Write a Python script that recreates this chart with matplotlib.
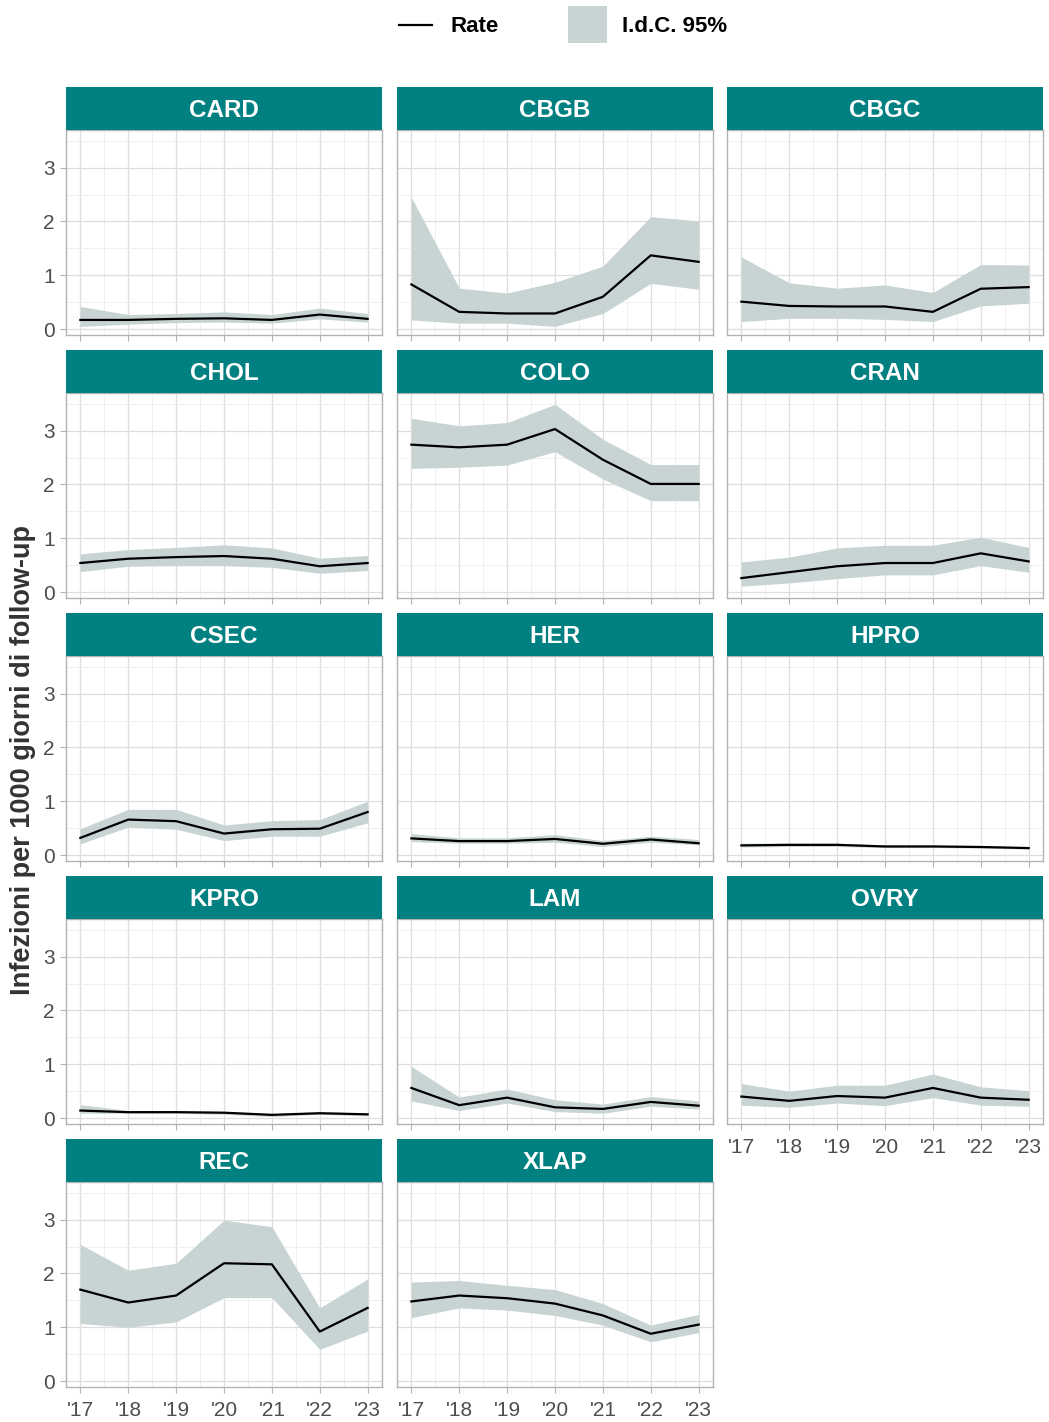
import numpy as np
import matplotlib
matplotlib.use("Agg")
from matplotlib import pyplot as plt
from matplotlib.lines import Line2D
from matplotlib.patches import Rectangle

# anni e pannelli
years = [17, 18, 19, 20, 21, 22, 23]
year_labels = ["'17", "'18", "'19", "'20", "'21", "'22", "'23"]
panels = ["CARD", "CBGB", "CBGC", "CHOL", "COLO", "CRAN", "CSEC",
          "HER", "HPRO", "KPRO", "LAM", "OVRY", "REC", "XLAP"]

# rate, limite inferiore, limite superiore
CARD_RATE = [0.17, 0.17, 0.19, 0.20, 0.17, 0.27, 0.19]
CARD_LO = [0.05, 0.09, 0.12, 0.13, 0.11, 0.19, 0.13]
CARD_HI = [0.42, 0.27, 0.29, 0.32, 0.27, 0.39, 0.29]

CBGB_RATE = [0.83, 0.32, 0.29, 0.29, 0.60, 1.37, 1.25]
CBGB_LO = [0.17, 0.11, 0.11, 0.05, 0.29, 0.85, 0.74]
CBGB_HI = [2.45, 0.76, 0.67, 0.87, 1.17, 2.09, 2.01]

CBGC_RATE = [0.51, 0.43, 0.42, 0.42, 0.32, 0.75, 0.78]
CBGC_LO = [0.14, 0.20, 0.20, 0.18, 0.14, 0.43, 0.48]
CBGC_HI = [1.34, 0.86, 0.76, 0.82, 0.68, 1.20, 1.19]

CHOL_RATE = [0.54, 0.62, 0.65, 0.67, 0.62, 0.48, 0.54]
CHOL_LO = [0.38, 0.48, 0.49, 0.49, 0.46, 0.35, 0.40]
CHOL_HI = [0.71, 0.79, 0.83, 0.88, 0.82, 0.63, 0.68]

COLO_RATE = [2.74, 2.69, 2.74, 3.03, 2.46, 2.01, 2.01]
COLO_LO = [2.30, 2.32, 2.36, 2.61, 2.10, 1.70, 1.70]
COLO_HI = [3.23, 3.09, 3.15, 3.49, 2.84, 2.37, 2.37]

CRAN_RATE = [0.26, 0.37, 0.48, 0.54, 0.54, 0.72, 0.57]
CRAN_LO = [0.11, 0.17, 0.25, 0.32, 0.32, 0.49, 0.37]
CRAN_HI = [0.56, 0.65, 0.82, 0.87, 0.87, 1.02, 0.83]

CSEC_RATE = [0.32, 0.66, 0.63, 0.40, 0.48, 0.49, 0.80]
CSEC_LO = [0.21, 0.52, 0.48, 0.27, 0.35, 0.35, 0.60]
CSEC_HI = [0.49, 0.85, 0.85, 0.56, 0.64, 0.66, 1.00]

HER_RATE = [0.31, 0.26, 0.26, 0.30, 0.21, 0.29, 0.22]
HER_LO = [0.25, 0.22, 0.22, 0.24, 0.16, 0.24, 0.19]
HER_HI = [0.40, 0.32, 0.32, 0.38, 0.27, 0.35, 0.29]

HPRO_RATE = [0.18, 0.19, 0.19, 0.16, 0.16, 0.15, 0.13]
HPRO_LO = [0.15, 0.16, 0.16, 0.14, 0.14, 0.13, 0.11]
HPRO_HI = [0.22, 0.22, 0.22, 0.19, 0.19, 0.18, 0.16]

KPRO_RATE = [0.14, 0.11, 0.11, 0.10, 0.06, 0.09, 0.07]
KPRO_LO = [0.09, 0.09, 0.09, 0.07, 0.03, 0.07, 0.04]
KPRO_HI = [0.25, 0.14, 0.14, 0.12, 0.08, 0.12, 0.09]

LAM_RATE = [0.56, 0.24, 0.38, 0.20, 0.17, 0.30, 0.23]
LAM_LO = [0.32, 0.14, 0.28, 0.12, 0.09, 0.22, 0.17]
LAM_HI = [0.96, 0.39, 0.54, 0.34, 0.26, 0.40, 0.32]

OVRY_RATE = [0.40, 0.32, 0.41, 0.38, 0.56, 0.38, 0.34]
OVRY_LO = [0.24, 0.20, 0.28, 0.23, 0.38, 0.24, 0.22]
OVRY_HI = [0.64, 0.50, 0.61, 0.61, 0.82, 0.58, 0.51]

REC_RATE = [1.70, 1.46, 1.59, 2.19, 2.17, 0.92, 1.36]
REC_LO = [1.07, 1.00, 1.10, 1.55, 1.55, 0.59, 0.93]
REC_HI = [2.54, 2.06, 2.19, 2.99, 2.87, 1.36, 1.90]

XLAP_RATE = [1.48, 1.59, 1.54, 1.44, 1.22, 0.88, 1.05]
XLAP_LO = [1.18, 1.36, 1.32, 1.22, 1.04, 0.73, 0.90]
XLAP_HI = [1.84, 1.87, 1.78, 1.70, 1.44, 1.04, 1.24]

series = {
    "CARD": (CARD_RATE, CARD_LO, CARD_HI),
    "CBGB": (CBGB_RATE, CBGB_LO, CBGB_HI),
    "CBGC": (CBGC_RATE, CBGC_LO, CBGC_HI),
    "CHOL": (CHOL_RATE, CHOL_LO, CHOL_HI),
    "COLO": (COLO_RATE, COLO_LO, COLO_HI),
    "CRAN": (CRAN_RATE, CRAN_LO, CRAN_HI),
    "CSEC": (CSEC_RATE, CSEC_LO, CSEC_HI),
    "HER": (HER_RATE, HER_LO, HER_HI),
    "HPRO": (HPRO_RATE, HPRO_LO, HPRO_HI),
    "KPRO": (KPRO_RATE, KPRO_LO, KPRO_HI),
    "LAM": (LAM_RATE, LAM_LO, LAM_HI),
    "OVRY": (OVRY_RATE, OVRY_LO, OVRY_HI),
    "REC": (REC_RATE, REC_LO, REC_HI),
    "XLAP": (XLAP_RATE, XLAP_LO, XLAP_HI),
}

TEAL = "#008080"
FILL = "#C7D4D3"
BORDER = "#B3B3B3"

plt.rcParams["font.family"] = ["Liberation Sans", "DejaVu Sans"]

W, H = 1049, 1422
fig = plt.figure(figsize=(W / 100, H / 100), dpi=100)

col_x = [66, 397, 727]
row_top = [87, 350, 613, 876, 1139]
pw, sh, ph = 316, 43, 205

for i, name in enumerate(panels):
    r, c = divmod(i, 3)
    x0 = col_x[c]
    top = row_top[r]
    ax = fig.add_axes([x0 / W, 1 - (top + sh + ph) / H, pw / W, ph / H])
    sax = fig.add_axes([x0 / W, 1 - (top + sh) / H, pw / W, sh / H])

    rate, lo, hi = series[name]
    ax.fill_between(years, lo, hi, color=FILL, lw=0, zorder=2)
    ax.plot(years, rate, color="black", lw=1.6, zorder=3)

    ax.set_xlim(16.7, 23.3)
    ax.set_ylim(-0.11, 3.70)
    ax.set_xticks(years)
    ax.set_xticks(np.arange(17.5, 23, 1.0), minor=True)
    ax.set_yticks([0, 1, 2, 3])
    ax.set_yticks([0.5, 1.5, 2.5, 3.5], minor=True)
    ax.grid(which="major", color="#DEDEDE", lw=0.9, zorder=0)
    ax.grid(which="minor", color="#EEEEEE", lw=0.6, zorder=0)
    ax.set_axisbelow(True)
    for sp in ax.spines.values():
        sp.set_color(BORDER)
        sp.set_linewidth(1.0)

    ax.tick_params(which="major", length=4, color=BORDER, width=0.8,
                   labelcolor="#4D4D4D", labelsize=15)
    ax.tick_params(axis="x", pad=6)
    ax.tick_params(axis="y", pad=4)
    ax.tick_params(which="minor", length=0)
    ax.set_xticklabels(year_labels)
    ax.set_yticklabels(["0", "1", "2", "3"])
    if i < 11:
        ax.tick_params(axis="x", labelbottom=False)
    if c != 0:
        ax.tick_params(axis="y", left=False, labelleft=False)

    sax.set_facecolor(TEAL)
    sax.set_xticks([])
    sax.set_yticks([])
    for sp in sax.spines.values():
        sp.set_visible(False)
    sax.text(0.5, 0.46, name, transform=sax.transAxes, ha="center", va="center",
             color="white", fontsize=17.5, fontweight="bold")

# legenda in alto
fig.add_artist(Line2D([399 / W, 432 / W], [1 - 25 / H, 1 - 25 / H],
                      color="black", lw=1.6, transform=fig.transFigure))
fig.text(451 / W, 1 - 26 / H, "Rate", fontsize=16, fontweight="bold",
         va="center", ha="left")
fig.add_artist(Rectangle((568 / W, 1 - 43 / H), 39 / W, 37 / H, color=FILL,
                         lw=0, transform=fig.transFigure))
fig.text(622 / W, 1 - 26 / H, "I.d.C. 95%", fontsize=16, fontweight="bold",
         va="center", ha="left")

fig.text(23 / W, 1 - 760 / H, "Infezioni per 1000 giorni di follow-up",
         rotation=90, ha="center", va="center", fontsize=19.5,
         fontweight="bold", color="#333333")

fig.savefig("out.png", dpi=100)
